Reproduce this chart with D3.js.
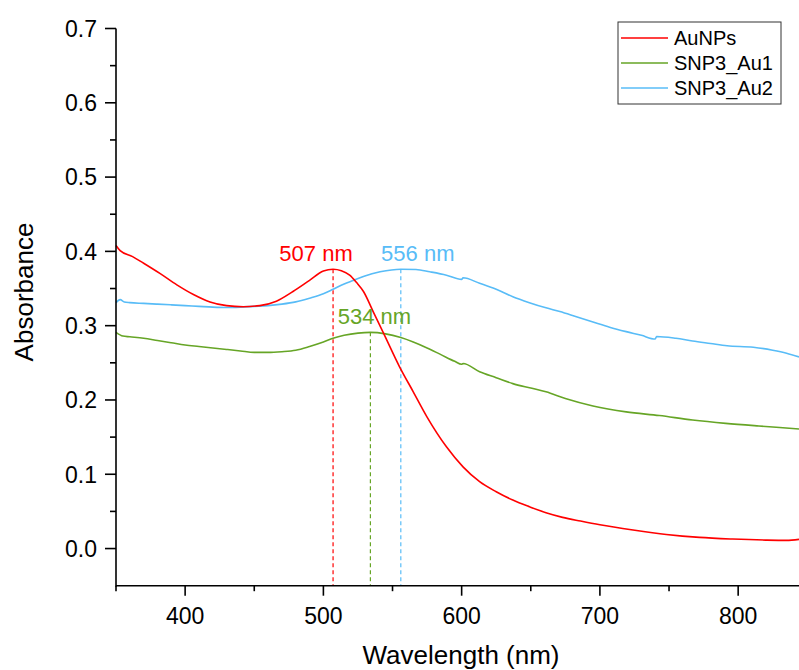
<!DOCTYPE html>
<html>
<head>
<meta charset="utf-8">
<script src="https://cdn.jsdelivr.net/npm/d3@7/dist/d3.min.js"></script>
<style>
  html, body { margin: 0; padding: 0; background: #fff; }
  svg { display: block; font-family: Arial, "Liberation Sans", sans-serif; }
</style>
</head>
<body>
<svg id="chart" width="799" height="670"></svg>
<script>
// UV-Vis absorbance spectra
const wavelengthsAuNPs = [350, 353, 362, 370, 382, 394, 406, 418, 430, 442, 454, 466, 478, 490, 500, 507, 513, 519, 524, 529, 536, 544, 555, 565, 575, 589, 601, 613, 625, 637, 649, 661, 673, 686, 700, 724, 748, 772, 796, 820, 835, 844];
const absAuNPs = [0.408, 0.401, 0.393, 0.384, 0.370, 0.355, 0.342, 0.332, 0.327, 0.3255, 0.327, 0.333, 0.346, 0.361, 0.3735, 0.376, 0.374, 0.368, 0.358, 0.346, 0.319, 0.288, 0.245, 0.211, 0.177, 0.137, 0.110, 0.090, 0.0765, 0.0653, 0.0563, 0.0482, 0.042, 0.037, 0.032, 0.025, 0.019, 0.015, 0.0128, 0.0114, 0.011, 0.0124];

const wavelengthsAu1 = [350, 355, 360, 370, 380, 390, 400, 410, 420, 430, 440, 450, 460, 470, 480, 490, 500, 507, 515, 525, 534, 545, 556, 565, 575, 585, 595, 600, 601, 613, 625, 637, 650, 661, 675, 695, 719, 743, 767, 791, 815, 830, 844];
const absAu1 = [0.291, 0.286, 0.285, 0.283, 0.280, 0.277, 0.274, 0.272, 0.270, 0.268, 0.266, 0.264, 0.264, 0.265, 0.267, 0.272, 0.278, 0.283, 0.287, 0.290, 0.291, 0.289, 0.284, 0.278, 0.270, 0.261, 0.252, 0.248, 0.249, 0.238, 0.230, 0.222, 0.216, 0.211, 0.202, 0.192, 0.184, 0.179, 0.173, 0.1685, 0.165, 0.163, 0.161];

const wavelengthsAu2 = [350, 353, 356, 360, 370, 380, 390, 400, 410, 420, 430, 440, 450, 460, 470, 480, 490, 500, 507, 515, 522, 530, 541, 556, 567, 577, 589, 600, 601, 613, 625, 637, 649, 661, 671, 683, 695, 707, 719, 730, 740, 741, 755, 767, 780, 792, 811, 825, 835, 844];
const absAu2 = [0.331, 0.335, 0.332, 0.331, 0.330, 0.329, 0.328, 0.327, 0.326, 0.325, 0.3245, 0.325, 0.326, 0.327, 0.329, 0.332, 0.337, 0.343, 0.349, 0.356, 0.361, 0.367, 0.3725, 0.376, 0.3757, 0.3725, 0.368, 0.3623, 0.3645, 0.357, 0.349, 0.339, 0.331, 0.324, 0.319, 0.312, 0.305, 0.298, 0.292, 0.287, 0.282, 0.2855, 0.283, 0.2793, 0.276, 0.273, 0.271, 0.267, 0.263, 0.258];

const seriesNames = ["AuNPs", "SNP3_Au1", "SNP3_Au2"];
const seriesColors = ["#ff0000", "#66a526", "#58bcf7"];

// Peak positions with their absorbance maxima
const peakWavelengths = [507, 534, 556];
const peakAbs = [0.376, 0.291, 0.376];
const peakLabels = ["507 nm", "534 nm", "556 nm"];

const xMajorTicks = [400, 500, 600, 700, 800];
const xMinorTicks = [350, 450, 550, 650, 750];
const yMajorTicks = [0.0, 0.1, 0.2, 0.3, 0.4, 0.5, 0.6, 0.7];
const yMinorTicks = [0.05, 0.15, 0.25, 0.35, 0.45, 0.55, 0.65];

const svg = d3.select("#chart");
const margin = { left: 116, top: 28.5, right: 0, bottom: 84.3 };
const W = 799, H = 670;

const x = d3.scaleLinear().domain([350, 844]).range([margin.left, W - margin.right]);
const y = d3.scaleLinear().domain([-0.05, 0.7]).range([H - margin.bottom, margin.top]);

const series = [
  { name: seriesNames[0], color: seriesColors[0], xs: wavelengthsAuNPs, ys: absAuNPs },
  { name: seriesNames[1], color: seriesColors[1], xs: wavelengthsAu1, ys: absAu1 },
  { name: seriesNames[2], color: seriesColors[2], xs: wavelengthsAu2, ys: absAu2 }
];

const line = d3.line()
  .x(d => x(d[0]))
  .y(d => y(d[1]))
  .curve(d3.curveMonotoneX);

const plot = svg.append("g");

// peak markers: dashed drop lines from each maximum to the x axis
const peakColors = [seriesColors[0], seriesColors[1], seriesColors[2]];
peakWavelengths.forEach((wl, i) => {
  plot.append("line")
    .attr("x1", x(wl)).attr("x2", x(wl))
    .attr("y1", y(peakAbs[i])).attr("y2", y(-0.05))
    .attr("stroke", peakColors[i])
    .attr("stroke-width", 1.2)
    .attr("stroke-dasharray", "4,3");
});

// spectra (drawn Au2, Au1, then AuNPs on top)
[2, 1, 0].forEach(i => {
  const s = series[i];
  plot.append("path")
    .datum(s.xs.map((v, k) => [v, s.ys[k]]))
    .attr("fill", "none")
    .attr("stroke", s.color)
    .attr("stroke-width", 1.6)
    .attr("stroke-linejoin", "round")
    .attr("d", line);
});

// peak annotations
const labelPos = [
  { dx: -17, yv: 0.387 },
  { dx: 4, yv: 0.302 },
  { dx: 17, yv: 0.387 }
];
peakWavelengths.forEach((wl, i) => {
  svg.append("text")
    .attr("x", x(wl) + labelPos[i].dx)
    .attr("y", y(labelPos[i].yv))
    .attr("text-anchor", "middle")
    .attr("font-size", 22)
    .attr("fill", peakColors[i])
    .text(peakLabels[i]);
});

// axes
const axisColor = "#000";
const xAxisY = y(-0.05);
const gx = svg.append("g");
gx.append("line")
  .attr("x1", margin.left).attr("x2", W)
  .attr("y1", xAxisY).attr("y2", xAxisY)
  .attr("stroke", axisColor).attr("stroke-width", 1.6);
gx.selectAll("line.major").data(xMajorTicks).enter().append("line")
  .attr("x1", d => x(d)).attr("x2", d => x(d))
  .attr("y1", xAxisY).attr("y2", xAxisY + 10)
  .attr("stroke", axisColor).attr("stroke-width", 1.6);
gx.selectAll("line.minor").data(xMinorTicks).enter().append("line")
  .attr("x1", d => x(d)).attr("x2", d => x(d))
  .attr("y1", xAxisY).attr("y2", xAxisY + 5.5)
  .attr("stroke", axisColor).attr("stroke-width", 1.6);
gx.selectAll("text").data(xMajorTicks).enter().append("text")
  .attr("x", d => x(d))
  .attr("y", xAxisY + 38)
  .attr("text-anchor", "middle")
  .attr("font-size", 23)
  .attr("fill", "#000")
  .text(d => d3.format("d")(d));

const gy = svg.append("g");
gy.append("line")
  .attr("x1", margin.left).attr("x2", margin.left)
  .attr("y1", y(0.7)).attr("y2", xAxisY + 1)
  .attr("stroke", axisColor).attr("stroke-width", 1.6);
gy.selectAll("line.major").data(yMajorTicks).enter().append("line")
  .attr("x1", margin.left - 11).attr("x2", margin.left)
  .attr("y1", d => y(d)).attr("y2", d => y(d))
  .attr("stroke", axisColor).attr("stroke-width", 1.6);
gy.selectAll("line.minor").data(yMinorTicks).enter().append("line")
  .attr("x1", margin.left - 6).attr("x2", margin.left)
  .attr("y1", d => y(d)).attr("y2", d => y(d))
  .attr("stroke", axisColor).attr("stroke-width", 1.6);
gy.selectAll("text").data(yMajorTicks).enter().append("text")
  .attr("x", margin.left - 19)
  .attr("y", d => y(d))
  .attr("dy", "0.36em")
  .attr("text-anchor", "end")
  .attr("font-size", 23)
  .attr("fill", "#000")
  .text(d => d3.format(".1f")(d));

// axis titles
svg.append("text")
  .attr("x", 461)
  .attr("y", 664)
  .attr("text-anchor", "middle")
  .attr("font-size", 26)
  .attr("fill", "#000")
  .text("Wavelength (nm)");
svg.append("text")
  .attr("transform", "translate(33,292) rotate(-90)")
  .attr("text-anchor", "middle")
  .attr("font-size", 26)
  .attr("fill", "#000")
  .text("Absorbance");

// legend
const lg = svg.append("g").attr("transform", "translate(618,22)");
lg.append("rect")
  .attr("x", 0).attr("y", 0).attr("width", 163).attr("height", 82)
  .attr("fill", "#fff").attr("stroke", "#333").attr("stroke-width", 1);
series.forEach((s, i) => {
  const ly = 16 + i * 25;
  lg.append("line")
    .attr("x1", 3).attr("x2", 50)
    .attr("y1", ly).attr("y2", ly)
    .attr("stroke", s.color).attr("stroke-width", 1.6);
  lg.append("text")
    .attr("x", 56).attr("y", ly)
    .attr("dy", "0.36em")
    .attr("font-size", 20)
    .attr("fill", "#000")
    .text(s.name);
});
</script>
</body>
</html>
